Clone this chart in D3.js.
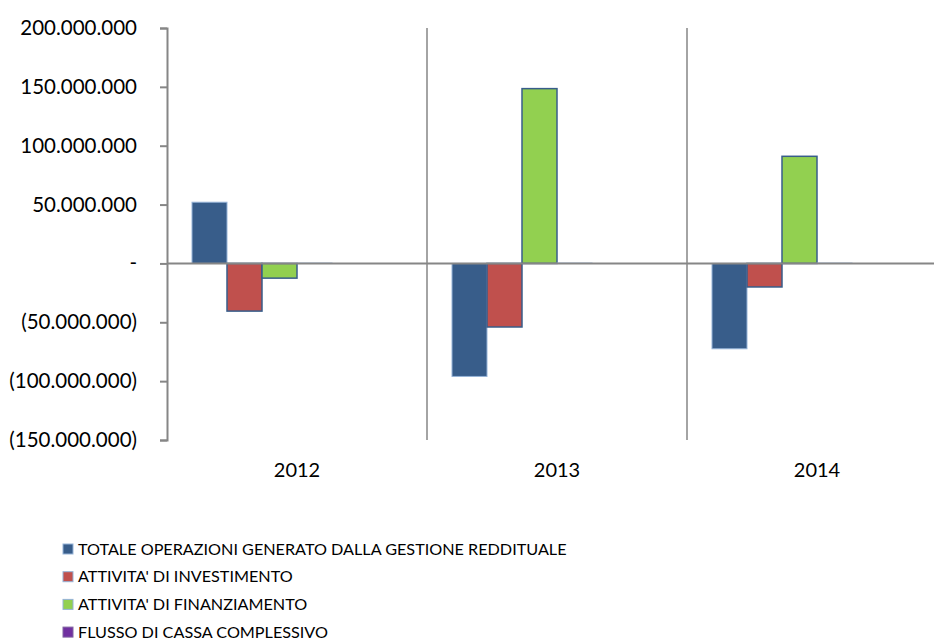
<!DOCTYPE html>
<html><head><meta charset="utf-8">
<script src="https://cdn.jsdelivr.net/npm/d3@7"></script>
<style>body{margin:0;background:#fff}svg{display:block}text{font-family:Lato,"Open Sans",sans-serif;fill:#000}</style>
</head><body>
<script>
const categories = ["2012", "2013", "2014"];
const seriesNames = [
  "TOTALE OPERAZIONI GENERATO DALLA GESTIONE REDDITUALE",
  "ATTIVITA' DI INVESTIMENTO",
  "ATTIVITA' DI FINANZIAMENTO",
  "FLUSSO DI CASSA COMPLESSIVO"
];
const gestioneReddituale = [52000000, -96000000, -72500000];
const investimento = [-40500000, -54000000, -20000000];
const finanziamento = [-12500000, 148500000, 91000000];
const flussoCassa = [300000, 300000, 300000];
const seriesColors = ["#385D8A", "#C0504D", "#92D050", "#7030A0"];
const yTicks = [-150000000, -100000000, -50000000, 0, 50000000, 100000000, 150000000, 200000000];

const seriesValues = [gestioneReddituale, investimento, finanziamento, flussoCassa];
const W = 934, H = 641;
const svg = d3.select("body").append("svg").attr("width", W).attr("height", H);

const y = d3.scaleLinear().domain([-150000000, 200000000]).range([440, 28]);
const x0 = d3.scaleBand().domain(categories).range([167, 947]).paddingInner(0).paddingOuter(0);
const x1 = d3.scaleBand().domain(d3.range(4)).range([25, 165]).padding(0);

const fmt = v => v === 0 ? "-" : (v < 0 ? "(" + d3.format(",")(-v).replace(/,/g, ".") + ")" : d3.format(",")(v).replace(/,/g, "."));

// category separators
svg.append("g").selectAll("line").data(categories.slice(1)).join("line")
  .attr("x1", d => x0(d)).attr("x2", d => x0(d))
  .attr("y1", y(200000000)).attr("y2", y(-150000000))
  .attr("stroke", "#868686").attr("stroke-width", 1.5);

// bars
const groups = svg.append("g").selectAll("g").data(categories).join("g")
  .attr("transform", d => `translate(${x0(d)},0)`);
groups.selectAll("rect").data((c, ci) => seriesValues.map((s, si) => ({si, v: s[ci]}))).join("rect")
  .attr("x", d => x1(d.si))
  .attr("width", x1.bandwidth())
  .attr("y", d => y(Math.max(0, d.v)))
  .attr("height", d => Math.abs(y(d.v) - y(0)))
  .attr("fill", d => seriesColors[d.si])
  .attr("stroke", d => d.si === 0 || d.si === 3 ? "#95B3D7" : "#385D8A")
  .attr("stroke-width", d => d.si === 0 || d.si === 3 ? 1 : 1.5);

// y axis
const yAxis = svg.append("g").attr("transform", "translate(167,0)")
  .call(d3.axisLeft(y).tickValues(yTicks).tickFormat(fmt).tickSizeOuter(0).tickSize(7).tickPadding(23));
yAxis.select(".domain").attr("stroke", "#868686").attr("stroke-width", 2);
yAxis.selectAll(".tick line").attr("stroke", "#868686").attr("stroke-width", 2);
yAxis.selectAll(".tick text").attr("font-size", 20.5).attr("font-family", "Lato, 'Open Sans', sans-serif").attr("fill", "#000");

// x axis at zero
svg.append("line").attr("x1", 167).attr("x2", 947).attr("y1", y(0)).attr("y2", y(0))
  .attr("stroke", "#868686").attr("stroke-width", 2);

// category labels
svg.append("g").selectAll("text").data(categories).join("text")
  .attr("x", d => x0(d) + x0.bandwidth() / 2).attr("y", 470).attr("dy", "0.35em")
  .attr("text-anchor", "middle").attr("font-size", 20).text(d => d);

// legend
const lg = svg.append("g").selectAll("g").data(seriesNames).join("g")
  .attr("transform", (d, i) => `translate(63,${549 + i * 27.7})`);
lg.append("rect").attr("x", 0).attr("y", -5).attr("width", 10).attr("height", 10)
  .attr("fill", (d, i) => seriesColors[i]).attr("stroke", (d, i) => i === 3 ? "#8064A2" : "#95B3D7").attr("stroke-width", 1);
lg.append("text").attr("x", 15).attr("y", 0).attr("dy", "0.35em").attr("font-size", 16.2).text(d => d);
</script>
</body></html>
